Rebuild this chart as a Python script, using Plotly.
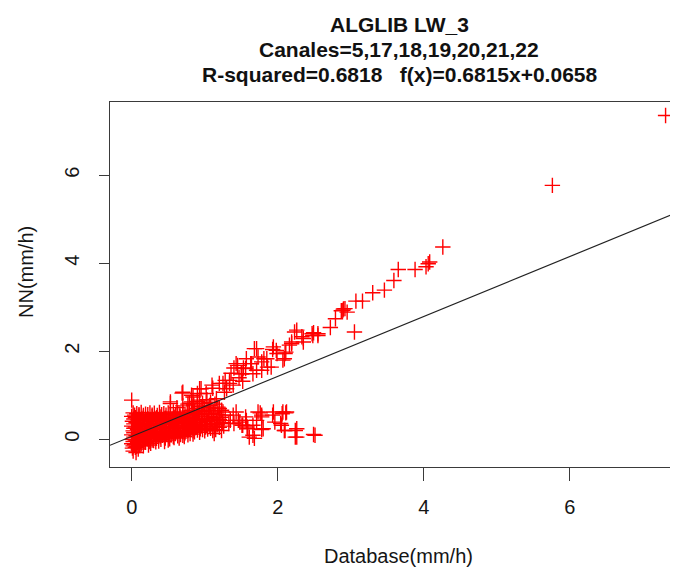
import plotly.graph_objects as go

# ---------------- data ----------------
title_lines = ["ALGLIB LW_3", "Canales=5,17,18,19,20,21,22",
               "R-squared=0.6818   f(x)=0.6815x+0.0658"]
x_label = "Database(mm/h)"
y_label = "NN(mm/h)"
x_ticks = [0, 2, 4, 6]
y_ticks = [0, 2, 4, 6]
fit_slope = 0.6815
fit_intercept = 0.0658

# dense block near the origin
block_points = [
    (0.02, 0.60), (0.07, 0.58), (0.13, 0.61), (0.19, 0.57), (0.25, 0.60), (0.31, 0.59), (0.38, 0.61),
    (0.44, 0.58), (0.50, 0.60), (0.57, 0.62), (0.63, 0.59), (0.70, 0.61), (0.76, 0.64), (0.83, 0.66),
    (0.90, 0.70), (0.96, 0.74),
    (0.04, 0.55), (0.10, 0.56), (0.16, 0.54), (0.22, 0.56), (0.28, 0.55), (0.35, 0.54), (0.41, 0.56),
    (0.47, 0.55), (0.53, 0.57), (0.60, 0.55), (0.66, 0.57), (0.73, 0.56), (0.79, 0.60), (0.86, 0.62),
    (0.93, 0.66), (1.00, 0.69), (1.06, 0.72),
    (0.00, 0.52), (0.05, 0.49), (0.10, 0.53), (0.16, 0.50), (0.22, 0.47), (0.28, 0.52), (0.34, 0.49),
    (0.40, 0.51), (0.46, 0.48), (0.53, 0.53), (0.59, 0.50), (0.66, 0.52), (0.72, 0.49), (0.79, 0.55),
    (0.85, 0.58), (0.92, 0.60), (0.99, 0.63), (1.05, 0.66), (1.10, 0.58),
    (0.03, 0.46), (0.08, 0.44), (0.14, 0.46), (0.20, 0.44), (0.26, 0.45), (0.32, 0.46), (0.39, 0.44),
    (0.45, 0.46), (0.51, 0.44), (0.57, 0.46), (0.63, 0.45), (0.70, 0.47), (0.76, 0.46), (0.83, 0.50),
    (0.89, 0.53), (0.96, 0.56), (1.03, 0.58), (1.12, 0.62), (1.18, 0.56),
    (0.01, 0.41), (0.06, 0.38), (0.12, 0.42), (0.18, 0.39), (0.24, 0.41), (0.30, 0.37), (0.36, 0.42),
    (0.42, 0.40), (0.48, 0.38), (0.55, 0.43), (0.61, 0.40), (0.68, 0.44), (0.74, 0.41), (0.80, 0.46),
    (0.87, 0.48), (0.93, 0.51), (1.00, 0.47), (1.07, 0.52), (1.14, 0.49), (1.20, 0.45),
    (0.03, 0.35), (0.09, 0.36), (0.15, 0.34), (0.21, 0.36), (0.27, 0.34), (0.33, 0.36), (0.39, 0.35),
    (0.45, 0.36), (0.51, 0.34), (0.58, 0.37), (0.64, 0.36), (0.70, 0.38), (0.77, 0.40), (0.83, 0.42),
    (0.90, 0.43), (0.96, 0.45), (1.02, 0.43), (1.09, 0.46), (1.16, 0.42), (1.22, 0.50),
    (0.00, 0.30), (0.05, 0.28), (0.11, 0.32), (0.17, 0.29), (0.23, 0.31), (0.29, 0.27), (0.35, 0.33),
    (0.41, 0.30), (0.47, 0.34), (0.53, 0.29), (0.60, 0.32), (0.66, 0.35), (0.72, 0.31), (0.78, 0.36),
    (0.85, 0.33), (0.91, 0.38), (0.97, 0.35), (1.04, 0.40), (1.10, 0.36), (1.17, 0.33), (1.24, 0.38),
    (0.03, 0.25), (0.09, 0.24), (0.15, 0.26), (0.21, 0.24), (0.27, 0.25), (0.33, 0.26), (0.39, 0.24),
    (0.45, 0.27), (0.51, 0.25), (0.57, 0.27), (0.64, 0.26), (0.70, 0.28), (0.76, 0.30), (0.83, 0.29),
    (0.89, 0.31), (0.95, 0.30), (1.02, 0.33), (1.07, 0.30), (1.13, 0.29), (1.20, 0.27), (1.26, 0.30),
    (0.02, 0.19), (0.08, 0.22), (0.14, 0.18), (0.20, 0.21), (0.26, 0.20), (0.32, 0.17), (0.38, 0.22),
    (0.44, 0.19), (0.50, 0.23), (0.56, 0.20), (0.62, 0.24), (0.69, 0.21), (0.75, 0.25), (0.81, 0.22),
    (0.88, 0.27), (0.94, 0.24), (1.01, 0.28), (1.08, 0.25), (1.15, 0.22),
    (0.03, 0.15), (0.09, 0.14), (0.15, 0.16), (0.21, 0.14), (0.27, 0.16), (0.33, 0.13), (0.39, 0.16),
    (0.45, 0.14), (0.51, 0.17), (0.57, 0.15), (0.63, 0.18), (0.70, 0.17), (0.77, 0.20), (0.84, 0.19),
    (0.90, 0.21), (0.97, 0.22), (1.04, 0.23), (1.11, 0.20),
    (0.00, 0.10), (0.06, 0.08), (0.12, 0.11), (0.18, 0.09), (0.24, 0.12), (0.30, 0.08), (0.36, 0.11),
    (0.42, 0.09), (0.48, 0.12), (0.54, 0.10), (0.60, 0.13), (0.67, 0.11), (0.73, 0.15), (0.80, 0.13),
    (0.86, 0.17), (0.93, 0.16), (1.00, 0.19),
    (0.03, 0.05), (0.09, 0.04), (0.15, 0.06), (0.21, 0.04), (0.27, 0.06), (0.33, 0.04), (0.39, 0.06),
    (0.45, 0.05), (0.51, 0.07), (0.57, 0.06), (0.63, 0.08), (0.70, 0.09), (0.77, 0.10), (0.84, 0.12),
    (0.01, 0.00), (0.05, -0.02), (0.10, 0.02), (0.16, -0.01), (0.22, 0.01), (0.28, -0.02), (0.34, 0.02),
    (0.40, 0.00), (0.46, 0.03), (0.52, 0.01), (0.58, 0.04), (0.65, 0.03), (0.72, 0.06),
    (0.02, -0.05), (0.07, -0.04), (0.12, -0.06), (0.18, -0.04), (0.24, -0.05), (0.30, -0.03),
    (0.37, -0.04), (0.50, -0.02),
    (0.00, -0.10), (0.04, -0.12), (0.08, -0.08), (0.13, -0.11), (0.19, -0.07), (0.26, -0.09),
    (0.33, -0.06), (0.45, -0.05),
    (0.02, -0.15), (0.07, -0.16), (0.11, -0.14), (0.16, -0.15), (0.23, -0.13),
    (0.01, -0.20), (0.05, -0.18), (0.09, -0.22), (0.02, -0.27), (0.06, -0.30),
    (0.62, 0.72), (0.70, 0.76), (0.77, 0.80), (0.85, 0.78), (0.90, 0.86), (0.97, 0.82),
    (1.03, 0.90), (1.08, 0.84), (1.14, 0.80), (1.20, 0.70), (1.25, 0.62),
]

# scattered points above the block and along the upper diagonal band
upper_points = [
    (0.00, 0.89), (0.53, 0.81), (0.53, 0.85), (0.69, 1.05), (0.70, 1.07), (0.79, 0.82), (0.82, 1.00),
    (0.82, 0.85), (0.84, 0.96), (0.90, 1.04), (0.93, 1.15), (0.93, 0.89), (0.95, 1.15), (1.02, 1.04),
    (1.07, 0.77), (1.10, 1.23), (1.11, 1.16), (1.16, 0.92), (1.18, 0.73), (1.20, 1.27), (1.25, 1.27),
    (1.27, 1.07), (1.28, 1.34), (1.30, 1.15), (1.34, 1.27), (1.34, 1.34), (1.36, 1.50), (1.39, 1.23),
    (1.40, 1.62), (1.43, 1.72), (1.45, 1.68), (1.47, 1.40), (1.50, 1.49), (1.51, 1.49), (1.52, 1.32),
    (1.53, 1.62), (1.56, 1.61), (1.57, 1.83), (1.63, 1.72), (1.64, 1.72), (1.66, 1.49), (1.68, 2.06),
    (1.71, 2.06), (1.71, 1.57), (1.73, 1.87), (1.78, 1.57), (1.78, 1.76), (1.81, 1.83), (1.85, 1.83),
    (1.86, 1.64), (1.91, 1.64), (1.93, 2.04), (1.94, 2.10), (1.98, 2.02), (1.99, 1.95), (2.07, 1.80),
    (2.09, 1.83), (2.10, 1.95), (2.11, 1.98), (2.16, 2.14), (2.19, 2.17), (2.19, 2.21), (2.23, 2.44),
    (2.26, 2.48), (2.33, 2.33), (2.35, 2.29), (2.35, 2.21), (2.47, 2.40), (2.48, 2.36), (2.49, 2.42),
    (2.55, 2.40), (2.55, 2.36), (2.72, 2.54), (2.79, 2.74), (2.87, 2.92), (2.89, 2.93), (2.92, 2.97),
    (2.95, 2.89), (2.90, 2.96), (3.05, 2.44), (3.07, 3.14), (3.16, 3.14), (3.30, 3.33), (3.46, 3.39),
    (3.59, 3.61), (3.65, 3.86), (3.88, 3.86), (4.03, 3.92), (4.06, 3.99), (4.08, 4.03), (4.26, 4.37),
    (5.76, 5.77), (7.31, 7.36),
]

# horizontal branch below the fitted line
branch_points = [
    (1.13, 0.13), (1.18, 0.36), (1.23, 0.66), (1.23, 0.20), (1.28, 0.55), (1.33, 0.36), (1.35, 0.43),
    (1.39, 0.55), (1.40, 0.36), (1.43, 0.62), (1.46, 0.43), (1.48, 0.39), (1.51, 0.32), (1.52, 0.32),
    (1.56, 0.51), (1.57, 0.43), (1.58, 0.28), (1.59, 0.24), (1.61, 0.05), (1.66, 0.32), (1.66, 0.09),
    (1.68, 0.02), (1.71, 0.43), (1.73, 0.62), (1.76, 0.60), (1.78, 0.55), (1.78, 0.51), (1.78, 0.22),
    (1.80, 0.24), (1.93, 0.55), (1.94, 0.62), (1.96, 0.39), (2.04, 0.36), (2.05, 0.32), (2.06, 0.58),
    (2.07, 0.62), (2.09, 0.20), (2.10, 0.20), (2.11, 0.60), (2.12, 0.62), (2.24, 0.20), (2.24, 0.05),
    (2.26, 0.24), (2.26, 0.05), (2.49, 0.11), (2.51, 0.09),
]

# ---------------- figure ----------------
all_points = block_points + upper_points + branch_points
xs = [p[0] for p in all_points]
ys = [p[1] for p in all_points]

x_range = [-0.297, 7.48]
y_range = [-0.63, 7.666]

FONT = "Liberation Sans, Arial, Helvetica, sans-serif"
AXCOL = "#3a3a3a"

# the page body adds an 8px offset, so the figure is 8px smaller than the window
OFF = 8
FIG_W, FIG_H = 678 - OFF, 572 - OFF
M_L, M_T, M_B = 110 - OFF, 102 - OFF, 105

fig = go.Figure()
fig.add_trace(go.Scatter(
    x=xs, y=ys, mode="markers",
    marker=dict(symbol="cross-thin", size=11, color="#FF0000",
                line=dict(color="#FF0000", width=1.4)),
    showlegend=False, hoverinfo="skip",
))
line_x = list(x_range)
line_y = [fit_slope * v + fit_intercept for v in line_x]
fig.add_trace(go.Scatter(
    x=line_x, y=line_y, mode="lines",
    line=dict(color="#222222", width=1.2),
    showlegend=False, hoverinfo="skip",
))

fig.update_layout(
    width=FIG_W, height=FIG_H,
    margin=dict(l=M_L, r=0, t=M_T, b=M_B, pad=0),
    paper_bgcolor="white", plot_bgcolor="white",
    font=dict(family=FONT, color="#111111"),
    xaxis=dict(range=x_range, tickvals=x_ticks, ticktext=[str(v) for v in x_ticks],
               showgrid=False, zeroline=False, showline=True, linecolor=AXCOL, linewidth=1.2,
               mirror=True, ticks="outside", ticklen=13, tickwidth=1.1, tickcolor=AXCOL,
               tickfont=dict(size=20, family=FONT, color="#151515"), ticklabelstandoff=9),
    yaxis=dict(range=y_range, tickvals=y_ticks, ticktext=[str(v) for v in y_ticks],
               showgrid=False, zeroline=False, showline=True, linecolor=AXCOL, linewidth=1.2,
               mirror=False, ticks="outside", ticklen=10, tickwidth=1.1, tickcolor=AXCOL,
               tickangle=-90, tickfont=dict(size=20, family=FONT, color="#151515"),
               ticklabelstandoff=12),
)

# pixel helpers for annotations (arguments in window pixels)
PLOT_TOP, PLOT_BOTTOM = M_T, FIG_H - M_B
PLOT_LEFT, PLOT_RIGHT = M_L, FIG_W
def py_to_paper(py):
    return (PLOT_BOTTOM - (py - OFF)) / (PLOT_BOTTOM - PLOT_TOP)
def px_to_paper(px):
    return ((px - OFF) - PLOT_LEFT) / (PLOT_RIGHT - PLOT_LEFT)

title_centers_y = [24, 49, 74]
for txt, cy in zip(title_lines, title_centers_y):
    fig.add_annotation(text="<b>%s</b>" % txt, x=px_to_paper(399), y=py_to_paper(cy),
                       xref="paper", yref="paper", xanchor="center", yanchor="middle",
                       showarrow=False, font=dict(size=21, family=FONT, color="#111111"))

fig.add_annotation(text=x_label, x=px_to_paper(398.5), y=py_to_paper(556),
                   xref="paper", yref="paper", xanchor="center", yanchor="middle",
                   showarrow=False, font=dict(size=20, family=FONT, color="#151515"))
fig.add_annotation(text=y_label, x=px_to_paper(26), y=py_to_paper(272),
                   xref="paper", yref="paper", xanchor="center", yanchor="middle",
                   textangle=-90, showarrow=False,
                   font=dict(size=20, family=FONT, color="#151515"))

fig.write_html("out.html")
